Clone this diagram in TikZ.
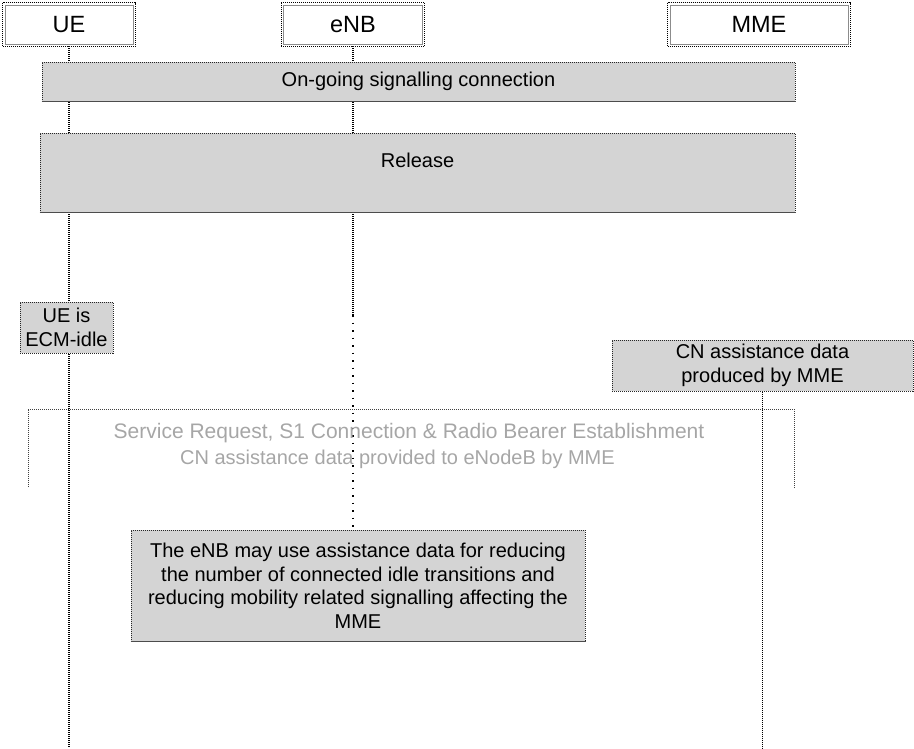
\documentclass[tikz,border=0pt]{standalone}
\usepackage{fontspec}
\setmainfont{Liberation Sans}
\usetikzlibrary{backgrounds}
\begin{document}
\begin{tikzpicture}[x=1pt,y=-1pt,
  header/.style={draw=black!45, fill=white, line width=0.7pt, minimum height=39pt, inner sep=0pt, font=\fontsize{23.5}{27}\selectfont},
  outerdot/.style={draw=black, line width=1pt, dash pattern=on 1pt off 1pt},
  greybox/.style={draw=black!85, line width=1pt, dash pattern=on 1pt off 1pt, fill=black!17, inner sep=0pt, align=center, font=\fontsize{20}{23.5}\selectfont},
  boxbase/.style={draw=black!70, line width=1.2pt},
  plaintext/.style={inner sep=0pt, align=center, font=\fontsize{20}{23.5}\selectfont},
  lifeline/.style={draw=black, line width=1.1pt, dash pattern=on 1pt off 1pt},
  sparseline/.style={draw=black, line width=1.1pt, dash pattern=on 1.5pt off 6pt},
  bracket/.style={draw=black!75, line width=0.9pt, dash pattern=on 1pt off 1pt},
  faint/.style={inner sep=0pt, align=center, text=black!35, font=\fontsize{20}{26}\selectfont}
]
\useasboundingbox (0,0) rectangle (914,748);

% headers
\node[header, minimum width=128pt] (ue) at (69,24.5) {UE};
\node[header, minimum width=139pt] (enb) at (353,24.5) {eNB};
\node[header, minimum width=178pt] (mme) at (759,24.5) {MME};
\draw[outerdot] ([shift={(-2,-2)}]ue.north west) rectangle ([shift={(2,2)}]ue.south east);
\draw[outerdot] ([shift={(-2,-2)}]enb.north west) rectangle ([shift={(2,2)}]enb.south east);
\draw[outerdot] ([shift={(-2,-2)}]mme.north west) rectangle ([shift={(2,2)}]mme.south east);

% boxes
\node[greybox, minimum width=753pt, minimum height=39pt] (ongoing) at (418.5,81.5) {On-going signalling connection};
\draw[boxbase] (ongoing.south west) -- (ongoing.south east);

\node[greybox, minimum width=755pt, minimum height=79pt] (rel) at (417.5,172.5) {};
\draw[boxbase] (rel.south west) -- (rel.south east);
\node[plaintext] (reltext) at (417.5,160) {Release};

\node[greybox, minimum width=93pt, minimum height=51pt] (idle) at (66.5,327.5) {UE is\\ECM-idle};

\node[greybox, minimum width=301pt, minimum height=51pt] (cn) at (762.5,365.5) {CN assistance data\\produced by MME};

\coordinate (sra) at (28,487);
\coordinate (srb) at (28,409);
\coordinate (src) at (794,409);
\coordinate (srd) at (794,488);
\draw[bracket] (sra) -- (srb) -- (src) -- (srd);
\node[faint] (srtext) at (409,446) {{\fontsize{21}{26}\selectfont Service Request, S1 Connection \& Radio Bearer Establishment}\\CN assistance data provided to eNodeB by MME\hspace*{23pt}};

\node[greybox, minimum width=454pt, minimum height=111pt] (enbbox) at (358,585.5) {The eNB may use assistance data for reducing\\the number of connected idle transitions and\\reducing mobility related signalling affecting the\\MME};
\draw[boxbase] (enbbox.south west) -- (enbbox.south east);

\coordinate (bottom) at (0,748);
\coordinate (enbmid) at (353,315);

\begin{pgfonlayer}{background}
\draw[lifeline] (ue.south) -- (ue|-bottom);
\draw[lifeline] (enb.south) -- (enbmid);
\draw[sparseline] (enbmid) -- (enb|-enbbox.north);
\draw[lifeline] (cn.south) -- (cn|-bottom);
\end{pgfonlayer}
\end{tikzpicture}
\end{document}
